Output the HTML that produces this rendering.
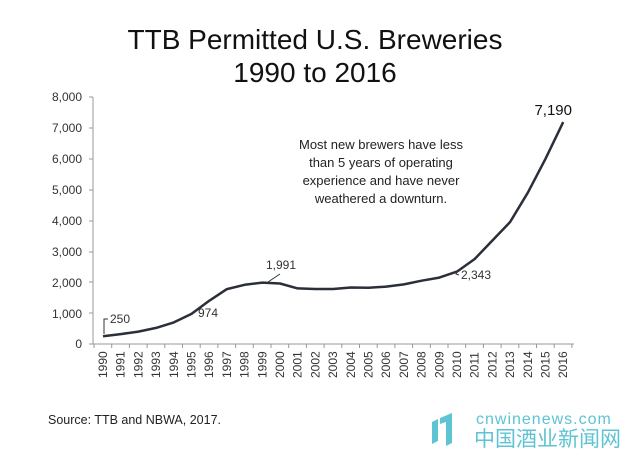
<!DOCTYPE html>
<html><head><style>body{margin:0;background:#fff}svg{display:block}</style></head><body>
<svg width="630" height="450" xmlns="http://www.w3.org/2000/svg" font-family="Liberation Sans, sans-serif">
<rect width="630" height="450" fill="#fff"/>
<text x="315" y="49" font-size="28" text-anchor="middle" fill="#111">TTB Permitted U.S. Breweries</text>
<text x="315" y="82" font-size="28" text-anchor="middle" fill="#111">1990 to 2016</text>
<g font-size="12" fill="#333" text-anchor="end">
<text x="82" y="101">8,000</text><text x="82" y="132">7,000</text><text x="82" y="163">6,000</text><text x="82" y="194">5,000</text><text x="82" y="225">4,000</text><text x="82" y="256">3,000</text><text x="82" y="287">2,000</text><text x="82" y="318">1,000</text><text x="82" y="348">0</text>
</g>
<g stroke="#999" stroke-width="1">
<line x1="93" y1="97" x2="93" y2="344"/><line x1="93" y1="344" x2="574" y2="344"/>
<line x1="89" y1="97" x2="93" y2="97"/><line x1="89" y1="128" x2="93" y2="128"/><line x1="89" y1="159" x2="93" y2="159"/><line x1="89" y1="190" x2="93" y2="190"/><line x1="89" y1="221" x2="93" y2="221"/><line x1="89" y1="252" x2="93" y2="252"/><line x1="89" y1="282" x2="93" y2="282"/><line x1="89" y1="313" x2="93" y2="313"/><line x1="89" y1="344" x2="93" y2="344"/>
<path d="M94 344v4M111.7 344v4M129.4 344v4M147.1 344v4M164.8 344v4M182.5 344v4M200.2 344v4M217.9 344v4M235.6 344v4M253.3 344v4M271 344v4M288.7 344v4M306.4 344v4M324.1 344v4M341.8 344v4M359.5 344v4M377.2 344v4M394.9 344v4M412.6 344v4M430.3 344v4M448 344v4M465.7 344v4M483.4 344v4M501.1 344v4M518.8 344v4M536.5 344v4M554.2 344v4M571.9 344v4"/>
</g>
<g font-size="12" fill="#333">
<text transform="translate(107,378) rotate(-90)">1990</text>
<text transform="translate(124.7,378) rotate(-90)">1991</text>
<text transform="translate(142.4,378) rotate(-90)">1992</text>
<text transform="translate(160.1,378) rotate(-90)">1993</text>
<text transform="translate(177.8,378) rotate(-90)">1994</text>
<text transform="translate(195.5,378) rotate(-90)">1995</text>
<text transform="translate(213.2,378) rotate(-90)">1996</text>
<text transform="translate(230.9,378) rotate(-90)">1997</text>
<text transform="translate(248.6,378) rotate(-90)">1998</text>
<text transform="translate(266.3,378) rotate(-90)">1999</text>
<text transform="translate(284,378) rotate(-90)">2000</text>
<text transform="translate(301.7,378) rotate(-90)">2001</text>
<text transform="translate(319.4,378) rotate(-90)">2002</text>
<text transform="translate(337.1,378) rotate(-90)">2003</text>
<text transform="translate(354.8,378) rotate(-90)">2004</text>
<text transform="translate(372.5,378) rotate(-90)">2005</text>
<text transform="translate(390.2,378) rotate(-90)">2006</text>
<text transform="translate(407.9,378) rotate(-90)">2007</text>
<text transform="translate(425.6,378) rotate(-90)">2008</text>
<text transform="translate(443.3,378) rotate(-90)">2009</text>
<text transform="translate(461,378) rotate(-90)">2010</text>
<text transform="translate(478.7,378) rotate(-90)">2011</text>
<text transform="translate(496.4,378) rotate(-90)">2012</text>
<text transform="translate(514.1,378) rotate(-90)">2013</text>
<text transform="translate(531.8,378) rotate(-90)">2014</text>
<text transform="translate(549.5,378) rotate(-90)">2015</text>
<text transform="translate(567.2,378) rotate(-90)">2016</text>
</g>
<polyline fill="none" stroke="#2b2f3a" stroke-width="2.5" stroke-linejoin="round" points="103,336.3 120.7,334.1 138.4,331.6 156.1,327.9 173.8,322.4 191.5,313.9 209.2,300.8 226.9,289.1 244.6,284.8 262.3,282.6 280,283.5 297.7,288.4 315.4,289.0 333.1,289.0 350.8,287.5 368.5,287.8 386.2,286.6 403.9,284.4 421.6,280.7 439.3,277.6 457,271.6 474.7,259.0 492.4,240.5 510.1,222.0 527.8,192.7 545.5,158.8 563.2,122.1"/>
<g font-size="12" fill="#333">
<text x="110" y="323">250</text><polyline points="104,334 104,319 108,319" fill="none" stroke="#333"/>
<text x="198" y="317">974</text>
<text x="266" y="269">1,991</text><line x1="268" y1="282" x2="280" y2="274" stroke="#333"/>
<text x="461" y="279">2,343</text><path d="M458 270 L456 274 L459 275" fill="none" stroke="#333"/>
</g>
<text x="572" y="115" font-size="15" fill="#111" text-anchor="end">7,190</text>
<g font-size="13" fill="#222" text-anchor="middle">
<text x="381" y="149">Most new brewers have less</text>
<text x="381" y="167">than 5 years of operating</text>
<text x="381" y="185">experience and have never</text>
<text x="381" y="203">weathered a downturn.</text>
</g>
<text x="48" y="424" font-size="12.5" fill="#222">Source: TTB and NBWA, 2017.</text>
<g fill="#5ec3d3">
<path d="M432 422 l6 -3 v22 l-6 3z M440 418 l12 -5 v30 l-6 3 v-24 l-6 2z"/>
</g>
<text x="476" y="424" font-size="16" fill="#5ec3d3" letter-spacing="1">cnwinenews.com</text>
<text x="474" y="446" font-size="21" fill="#5ec3d3" font-family="Noto Sans CJK SC, sans-serif">中国酒业新闻网</text>
</svg>
</body></html>
